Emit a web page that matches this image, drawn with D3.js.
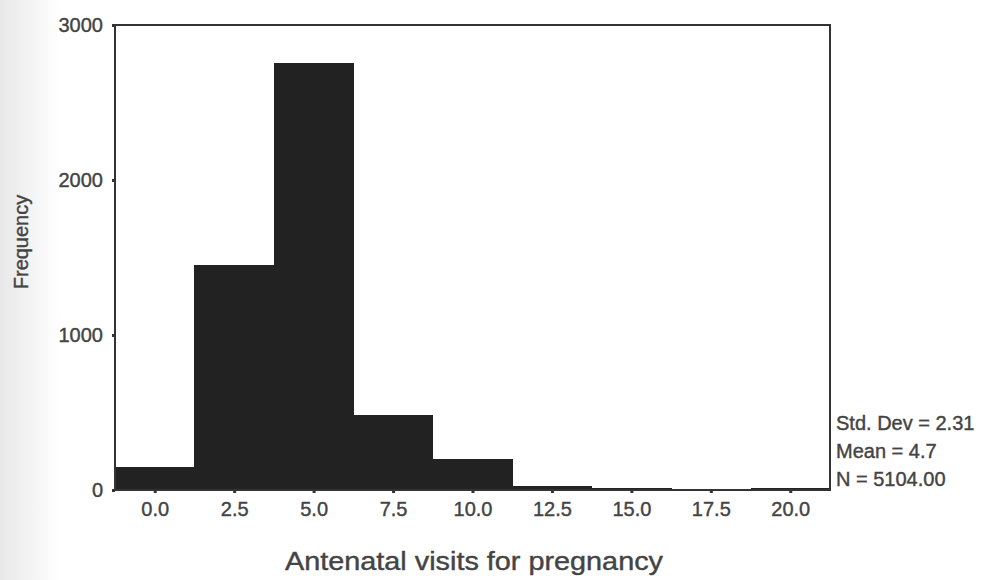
<!DOCTYPE html>
<html>
<head>
<meta charset="utf-8">
<script src="https://cdn.jsdelivr.net/npm/d3@7"></script>
<style>
    body { margin: 0; background: #fff; }
    svg text { font-family: Arial, "Liberation Sans", sans-serif; fill: #444; stroke: #444; stroke-width: 0.4px; }
</style>
</head>
<body>
<div id="chart"></div>
<script>
(function() {
    // histogram bins (midpoints) and counts
    var binMids = [0, 2.5, 5, 7.5, 10, 12.5, 15, 17.5, 20];
    var counts = [150, 1450, 2755, 485, 200, 25, 15, 0, 10];
    var yTicks = [0, 1000, 2000, 3000];
    var statLines = ["Std. Dev = 2.31", "Mean = 4.7", "N = 5104.00"];
    var binWidth = 2.5;

    var width = 995, height = 580;
    var margin = {left: 115, top: 25, right: 165, bottom: 90};

    var svg = d3.select("#chart")
        .append("svg")
        .attr("width", width)
        .attr("height", height);

    // faint scan shading on the left edge
    var grad = svg.append("defs").append("linearGradient")
        .attr("id", "shade");
    grad.append("stop").attr("offset", "0").attr("stop-color", "#e8e8e8");
    grad.append("stop").attr("offset", "1").attr("stop-color", "#ffffff");
    svg.append("rect")
        .attr("width", 60).attr("height", height)
        .attr("fill", "url(#shade)");

    var x = d3.scaleLinear()
        .domain([-1.25, 21.25])
        .range([margin.left, width - margin.right]);
    var y = d3.scaleLinear()
        .domain([0, 3000])
        .range([height - margin.bottom, margin.top]);

    svg.selectAll(".bar")
        .data(binMids)
        .enter()
        .append("rect")
        .attr("class", "bar")
        .attr("x", function(d) { return x(d - binWidth / 2); })
        .attr("width", function(d) { return x(d + binWidth / 2) - x(d - binWidth / 2) + 0.5; })
        .attr("y", function(d, i) { return y(counts[i]); })
        .attr("height", function(d, i) { return y(0) - y(counts[i]); })
        .attr("fill", "#222")
        .attr("shape-rendering", "crispEdges");

    // frame
    svg.append("rect")
        .attr("x", x.range()[0])
        .attr("y", y.range()[1])
        .attr("width", x.range()[1] - x.range()[0])
        .attr("height", y.range()[0] - y.range()[1])
        .attr("fill", "none")
        .attr("stroke", "#333")
        .attr("stroke-width", 2);

    var xAxis = svg.append("g")
        .attr("transform", "translate(0," + y(0) + ")")
        .call(d3.axisBottom(x).tickValues(binMids).tickSize(3).tickPadding(9).tickFormat(d3.format(".1f")));
    var yAxis = svg.append("g")
        .attr("transform", "translate(" + x(-1.25) + ",0)")
        .call(d3.axisLeft(y).tickValues(yTicks).tickSize(3).tickPadding(9).tickFormat(d3.format("d")));

    [xAxis, yAxis].forEach(function(g) {
        g.select(".domain").remove();
        g.selectAll("line").attr("stroke", "#333").attr("stroke-width", 3);
        g.selectAll("text").style("font-size", "20px").attr("fill", "#444");
    });

    svg.append("text")
        .attr("transform", "translate(28,242) rotate(-90)")
        .attr("text-anchor", "middle")
        .style("font-size", "20px")
        .text("Frequency");

    svg.append("text")
        .attr("x", 474)
        .attr("y", 570)
        .attr("text-anchor", "middle")
        .attr("textLength", 378)
        .attr("lengthAdjust", "spacingAndGlyphs")
        .style("font-size", "25px")
        .text("Antenatal visits for pregnancy");

    svg.selectAll(".stat")
        .data(statLines)
        .enter()
        .append("text")
        .attr("class", "stat")
        .attr("x", x.range()[1] + 6)
        .attr("y", function(d, i) { return 430 + i * 28; })
        .style("font-size", "20px")
        .text(function(d) { return d; });
})();
</script>
</body>
</html>
